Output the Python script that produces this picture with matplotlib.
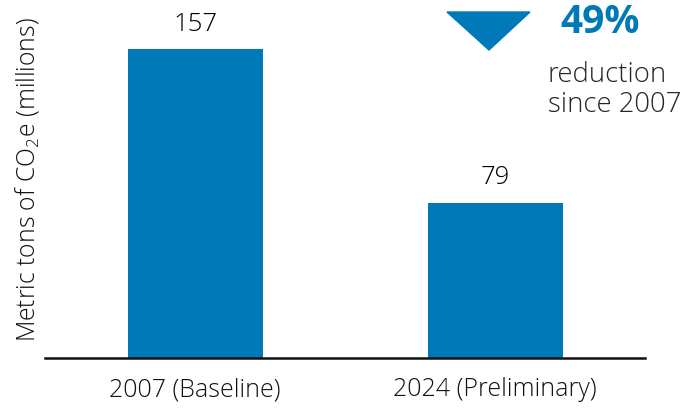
import matplotlib.pyplot as plt
from matplotlib.patches import Polygon

# data
categories = ['2007 (Baseline)', '2024 (Preliminary)']
emissions = [157, 79]
reduction_pct = '49%'
reduction_lines = ['reduction', 'since 2007']

BLUE = '#0079b8'
W, H = 686, 410

plt.rcParams['font.family'] = ['Open Sans', 'DejaVu Sans']
plt.rcParams['font.weight'] = 'light'
plt.rcParams['mathtext.fontset'] = 'custom'
plt.rcParams['mathtext.rm'] = 'Open Sans:light'

fig = plt.figure(figsize=(W/100, H/100), dpi=100)
ax = fig.add_axes([45/W, (H-359)/H, 600/W, 359/H])

x = range(len(categories))
bars = ax.bar(x, emissions, width=0.45, color=BLUE)
ax.set_xlim(-0.5, 1.5)
ax.set_ylim(0, 182.4)

for b, v in zip(bars, emissions):
    ax.text(b.get_x() + b.get_width()/2, v + 13, str(v), ha='center', va='center',
            fontsize=18.5, color='#000000')

ax.set_xticks(list(x))
ax.set_xticklabels(categories, fontsize=18, color='#111111')
ax.tick_params(axis='x', length=0, pad=13)
ax.set_yticks([])
for s in ['top', 'right', 'left']:
    ax.spines[s].set_visible(False)
ax.spines['bottom'].set_linewidth(1.8)
ax.spines['bottom'].set_color('#111111')

fig.text(27/W, 1 - 180/H, r'Metric tons of CO$_\mathregular{2}$e (millions)', rotation=90,
         ha='center', va='center', fontsize=17.8, color='#111111')

# down arrow + callout
tri = Polygon([(447/W, 1-13/H), (530/W, 1-13/H), (489/W, 1-51/H)],
              closed=True, transform=fig.transFigure, color=BLUE)
fig.patches.append(tri)
fig.text(560/W, 1 - 33/H, reduction_pct, ha='left', va='baseline', fontsize=28,
         fontweight='bold', color=BLUE)
for i, line in enumerate(reduction_lines):
    fig.text(548/W, 1 - (82 + 30*i)/H, line, ha='left', va='baseline', fontsize=19.8,
             color='#262626')

fig.savefig('out.png', dpi=100)
